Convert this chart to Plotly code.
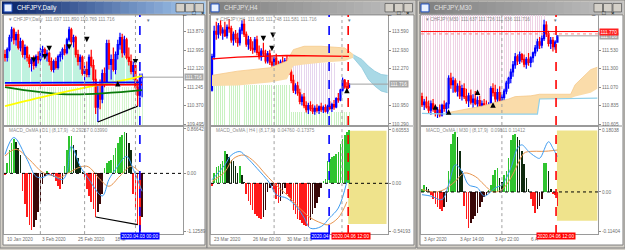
import plotly.graph_objects as go

W, H = 625, 250
FONT = "Liberation Sans"


def fx(p):
    return p / W


def fy(p):
    return 1 - p / H


# ---------------------------------------------------------------- data
# Window 1 : CHFJPY Daily
w1_open = [112.79,112.65,113.02,113.59,113.96,113.49,113.73,113.12,113.40,112.79,113.12,112.65,112.37,112.55,112.27,112.69,112.55,112.93,113.02,112.74,112.84,112.46,112.08,112.46,112.18,112.69,112.79,113.02,112.88,113.49,113.96,113.40,113.59,112.79,112.46,112.65,111.89,112.08,111.85,112.65,112.27,111.61,110.30,110.91,110.67,111.89,111.42,113.31,112.32,112.55,112.08,112.79,113.26,113.59,112.88,113.49,112.65,112.46,111.99,112.27,111.24,110.86,111.697]
w1_high = [113.02,113.12,113.73,114.11,114.06,113.87,113.96,113.59,113.49,113.26,113.21,112.79,112.65,112.74,112.79,112.93,113.12,113.21,113.12,113.02,112.93,112.65,112.55,112.65,112.79,112.93,113.12,113.26,113.59,114.11,114.06,113.73,113.68,113.02,112.79,112.74,112.27,112.46,112.79,113.02,112.55,112.08,111.38,111.61,112.08,112.18,113.49,113.49,112.79,113.12,112.93,113.49,113.82,113.78,113.68,113.59,113.12,112.79,112.46,112.37,111.61,111.89,111.890]
w1_low = [112.46,112.46,112.93,113.40,113.26,113.21,113.02,112.93,112.65,112.55,112.46,112.18,111.99,112.08,112.18,112.37,112.46,112.65,112.55,112.46,112.27,111.99,111.94,112.08,112.08,112.46,112.55,112.74,112.79,113.40,113.26,113.12,112.65,112.27,112.08,111.80,111.52,111.71,111.71,112.18,111.42,109.97,109.59,110.20,110.48,111.24,111.33,112.08,111.61,111.99,111.85,112.55,113.02,112.65,112.74,112.55,112.27,111.85,111.61,111.14,110.34,110.67,110.769]
w1_close = [112.65,113.02,113.59,113.96,113.49,113.73,113.12,113.40,112.79,113.12,112.65,112.37,112.55,112.27,112.69,112.55,112.93,113.02,112.74,112.84,112.46,112.08,112.46,112.18,112.69,112.79,113.02,112.88,113.49,113.96,113.40,113.59,112.79,112.46,112.65,111.89,112.08,111.85,112.65,112.27,111.61,110.30,110.91,110.67,111.89,111.42,113.31,112.32,112.55,112.08,112.79,113.26,113.59,112.88,113.49,112.65,112.46,111.99,112.27,111.24,110.86,111.70,111.716]
w1_hist = [-0.03,0.2,0.45,0.6,0.67,0.62,0.5,0.35,-0.35,-0.6,-0.85,-1.0,-1.1,-1.05,-0.9,-0.75,-0.55,-0.2,-0.05,0.05,-0.02,-0.05,-0.08,-0.15,-0.25,-0.3,-0.2,0.15,0.45,0.72,0.72,0.55,0.45,0.3,0.15,0.03,-0.1,-0.3,-0.45,-0.55,-0.7,-0.85,-0.75,-0.6,-0.4,0.1,0.2,0.25,0.27,0.35,0.5,0.6,0.7,0.75,0.8,0.78,0.6,0.45,-0.4,-0.7,-1.0,-1.12,-0.85]
w1_macd_x = [0,4,10,14,17,20,26,28,30,34,38,44,47,50,55,58,62]
w1_macd_y = [0.37,0.7,0.27,-0.06,-0.08,-0.02,-0.12,0.02,0.53,0.14,-0.12,-0.44,-0.12,0.08,0.33,0.08,-0.35]
w1_sig_x = [0,5,11,17,22,25,29,37,43,47,52,57,61]
w1_sig_y = [0.34,0.47,0.27,0.02,-0.05,-0.08,0.02,0.14,-0.12,-0.25,-0.05,0.14,0.02]
w1_yellow_x = [0,20,40,55,62]
w1_yellow_y = [110.34,110.85,111.30,111.60,111.78]
w1_blue_x = [0,62]
w1_blue_y = [111.45,111.47]
w1_red_x = [0,62]
w1_red_y = [111.33,111.36]
w1_green_x = [0,28,62]
w1_green_y = [111.24,110.90,111.10]
w1_div_px = [42,60]
w1_div_py = [109.59,110.34]
w1_div_mx = [41,60]
w1_div_my = [-0.85,-1.0]
w1_arr_dn_x = [13,18,20,29,37,59]
w1_arr_dn_y = [112.40,112.55,112.94,113.02,113.37,112.32]
w1_arr_up_x = [51]
w1_arr_up_y = [111.53]
w1_stripe_base = 111.40
w1_vlines_dash = [61]
w1_vlines_dot = [16,36,59]
w1_xlabels = ["10 Jan 2020", "3 Feb 2020", "25 Feb 2020", "18 M"]
w1_xlabel_pos = [0, 16, 32, 49]
w1_price_ticks = [113.870, 112.995, 112.120, 111.245, 110.370, 109.495]
w1_macd_ticks = [0.86642, 0.0, -1.12589]
w1_macd_ticktext = ["0.86642", "0.00", "-1.12589"]

# Window 2 : CHFJPY H4
w2_open = [111.50,112.70,113.60,113.50,113.80,113.55,113.65,113.45,113.75,113.70,113.30,113.50,113.35,113.20,113.65,113.85,113.50,113.15,113.30,113.00,112.95,113.30,112.85,112.70,112.90,112.80,112.55,112.80,112.50,112.40,112.65,112.35,112.20,112.50,112.35,112.55,112.40,112.15,111.85,111.50,111.65,111.40,111.10,111.25,110.95,110.80,110.95,110.85,110.75,110.85,110.78,110.90,110.80,110.88,110.75,110.92,110.85,110.98,110.90,111.20,111.15,111.50,111.85,111.62,111.605]
w2_high = [112.80,113.80,113.95,113.90,114.00,113.75,113.95,113.85,114.05,113.80,113.60,113.65,113.55,113.75,114.00,114.05,113.60,113.45,113.40,113.25,113.40,113.45,113.10,113.00,113.20,112.95,112.90,112.95,112.70,112.75,112.80,112.55,112.60,112.70,112.65,112.75,112.60,112.30,112.05,111.75,111.80,111.55,111.35,111.40,111.10,111.05,111.10,111.00,110.95,111.00,110.95,111.05,110.95,111.00,110.98,111.10,111.05,111.15,111.25,111.40,111.55,111.95,111.90,111.78,111.748]
w2_low = [111.45,112.60,113.30,113.35,113.45,113.30,113.40,113.35,113.55,113.20,113.10,113.20,113.05,113.10,113.50,113.40,113.05,112.95,112.90,112.80,112.85,112.75,112.60,112.55,112.70,112.45,112.45,112.40,112.25,112.30,112.30,112.10,112.10,112.25,112.20,112.30,112.05,111.75,111.40,111.35,111.30,111.00,110.95,110.85,110.70,110.65,110.75,110.65,110.62,110.70,110.65,110.72,110.68,110.70,110.66,110.78,110.72,110.80,110.85,111.05,111.10,111.45,111.55,111.50,111.581]
w2_close = [112.70,113.60,113.50,113.80,113.55,113.65,113.45,113.75,113.70,113.30,113.50,113.35,113.20,113.65,113.85,113.50,113.15,113.30,113.00,112.95,113.30,112.85,112.70,112.90,112.80,112.55,112.80,112.50,112.40,112.65,112.35,112.20,112.50,112.35,112.55,112.40,112.15,111.85,111.50,111.65,111.40,111.10,111.25,110.95,110.80,110.95,110.85,110.75,110.85,110.78,110.90,110.80,110.88,110.75,110.92,110.85,110.98,110.90,111.20,111.15,111.50,111.85,111.62,111.605,111.716]
w2_hist = [-0.03,0.12,0.18,0.2,0.22,0.25,0.37,0.33,0.3,0.27,0.25,0.2,0.12,0.2,0.1,0.02,-0.12,-0.2,-0.25,-0.3,-0.35,-0.37,-0.39,-0.4,-0.38,-0.3,-0.1,-0.05,-0.03,-0.1,-0.18,-0.22,-0.2,-0.12,-0.05,-0.12,-0.15,-0.2,-0.3,-0.35,-0.4,-0.42,-0.45,-0.47,-0.48,-0.5,-0.42,-0.35,-0.28,-0.22,-0.15,-0.05,0.03,0.05,0.25,0.28,0.3,0.31,0.33,0.36,0.45,0.5,0.55,0.58,0.6]
w2_macd_x = [0,6,9,13,16,21,27,30,35,40,43,46,51,55,59,63]
w2_macd_y = [0.04,0.21,0.32,0.36,0.3,0.17,0.0,-0.13,-0.17,-0.28,-0.39,-0.51,-0.49,-0.39,-0.28,0.02]
w2_sig_x = [0,6,10,15,20,24,29,35,40,46,51,54,59,63]
w2_sig_y = [0.02,0.13,0.28,0.32,0.24,0.13,0.0,-0.13,-0.26,-0.39,-0.45,-0.47,-0.39,-0.21]
w2_kijun_x = [0,12,35,64]
w2_kijun_y = [112.62,112.68,112.74,112.71]
w2_cloud_x = [0,12,27,35,38,43,51,62,66]
w2_cloud_top = [112.03,112.18,112.30,112.54,112.95,113.07,113.07,113.01,112.77]
w2_cloud_bot = [111.65,111.67,111.77,111.89,112.36,112.42,112.48,112.54,112.66]
w2_fcloud_x = [66,70,73,76,79,82]
w2_fcloud_top = [112.77,112.60,112.36,112.18,112.06,112.03]
w2_fcloud_bot = [112.66,112.30,111.89,111.65,111.47,111.41]
w2_arr_dn_x = [24,28.5,28]
w2_arr_dn_y = [113.25,113.37,112.89]
w2_arr_up_x = [63]
w2_arr_up_y = [111.59]
w2_vlines_dash_blue = [54.7]
w2_vlines_dash_red = [63.6]
w2_vlines_dot = [29,60.7]
w2_xlabels = ["23 Mar 2020", "26 Mar 00:00", "30 Mar 16:0"]
w2_xlabel_pos = [0, 18, 34]
w2_price_ticks = [113.590, 112.930, 112.270, 110.950, 110.290]
w2_macd_ticks = [0.60553, 0.0, -0.54193]
w2_macd_ticktext = ["0.60553", "0.00", "-0.54193"]
w2_box_x = [63.6, 81.5]
w2_box_y = [-0.46, 0.596]

# Window 3 : CHFJPY M30
w3_open = [110.95,110.85,110.88,110.82,110.78,110.86,110.80,110.74,110.78,110.72,110.84,110.80,110.86,111.18,111.10,111.15,111.02,111.08,110.96,111.05,110.95,110.90,110.96,110.88,110.92,110.86,110.90,110.80,110.86,110.82,110.80,110.84,111.05,111.00,110.92,111.00,110.90,110.94,111.02,111.12,111.18,111.26,111.35,111.45,111.40,111.48,111.42,111.36,111.42,111.38,111.44,111.50,111.56,111.64,111.60,111.68,111.85,111.74,111.62,111.66,111.58,111.637]
w3_high = [111.00,110.92,110.95,110.90,110.90,110.92,110.85,110.82,110.85,110.86,110.90,110.88,111.22,111.25,111.20,111.18,111.12,111.15,111.10,111.12,111.05,111.00,111.04,110.98,111.02,110.95,110.96,110.90,110.92,110.90,110.88,111.08,111.12,111.10,111.05,111.08,110.98,111.05,111.15,111.20,111.30,111.40,111.50,111.48,111.52,111.50,111.48,111.45,111.50,111.46,111.52,111.60,111.68,111.70,111.72,111.92,111.90,111.78,111.70,111.70,111.66,111.726]
w3_low = [110.82,110.78,110.80,110.74,110.72,110.76,110.70,110.68,110.69,110.70,110.76,110.74,110.80,111.05,111.00,111.00,110.95,110.92,110.90,110.92,110.86,110.82,110.85,110.80,110.84,110.78,110.76,110.74,110.78,110.75,110.76,110.80,110.95,110.88,110.85,110.86,110.80,110.88,110.98,111.05,111.12,111.20,111.30,111.35,111.36,111.38,111.32,111.30,111.34,111.32,111.38,111.46,111.52,111.55,111.56,111.65,111.70,111.58,111.55,111.52,111.54,111.636]
w3_close = [110.85,110.88,110.82,110.78,110.86,110.80,110.74,110.78,110.72,110.84,110.80,110.86,111.18,111.10,111.15,111.02,111.08,110.96,111.05,110.95,110.90,110.96,110.88,110.92,110.86,110.90,110.80,110.86,110.82,110.80,110.84,111.05,111.00,110.92,111.00,110.90,110.94,111.02,111.12,111.18,111.26,111.35,111.45,111.40,111.48,111.42,111.36,111.42,111.38,111.44,111.50,111.56,111.64,111.60,111.68,111.85,111.74,111.62,111.66,111.58,111.637,111.716]
w3_hist = [0.01,0.02,0.015,0.01,-0.01,-0.02,-0.035,-0.045,-0.05,-0.056,-0.045,-0.03,0.06,0.14,0.17,0.175,0.16,0.12,0.06,-0.04,-0.08,-0.104,-0.09,-0.08,-0.07,-0.06,-0.045,-0.03,-0.015,-0.01,0.005,0.02,0.05,0.065,0.07,0.04,0.03,0.05,0.06,0.1,0.15,0.165,0.17,0.16,0.151,0.12,0.08,0.04,0.01,-0.02,-0.04,-0.061,-0.05,-0.04,-0.02,0.084,0.084,0.06,0.01,-0.005,-0.01,-0.041]
w3_macd_x = [0,4,9,12,15,18,21,25,28,33,36,40,43,45,48,51,53,57,59,61]
w3_macd_y = [-0.008,-0.012,-0.022,0.021,0.079,0.06,0.021,0.012,-0.012,0.012,0.021,0.069,0.127,0.137,0.118,0.103,0.098,0.146,0.127,0.103]
w3_sig_x = [0,6,10,15,19,24,28,32,36,40,43,46,49,54,57,61]
w3_sig_y = [0.007,0.0,0.007,0.031,0.055,0.045,0.021,0.0,0.007,0.04,0.079,0.113,0.118,0.118,0.119,0.122]
w3_cloud_x = [12,27,39,42,49,52,53,60,67,69,76,79]
w3_cloud_top = [110.75,110.83,110.92,110.95,110.96,110.98,110.98,110.98,110.98,111.10,111.29,111.32]
w3_cloud_bot = [110.73,110.73,110.73,110.73,110.73,110.73,110.92,110.92,110.93,110.95,111.00,111.05]
w3_spanb_x = [0,12,52,53,79]
w3_spanb_y = [110.74,110.73,110.73,110.92,110.93]
w3_redline = 111.77
w3_arr_up_x = [6,12,25,32]
w3_arr_up_y = [110.855,110.79,111.04,110.88]
w3_vlines_dash_red = [60.4]
w3_vlines_dot = [36]
w3_xlabels = ["3 Apr 2020", "3 Apr 14:00", "3 Apr 22:00", "6 A"]
w3_xlabel_pos = [0, 16, 32, 48]
w3_price_ticks = [111.530, 111.300, 111.070, 110.835, 110.605]
w3_macd_ticks = [0.18038, 0.0, -0.11404]
w3_macd_ticktext = ["0.18038", "0.00", "-0.11404"]
w3_box_x = [60.8, 79.0]
w3_box_y = [-0.084, 0.179]

last_price = 111.716

# ---------------------------------------------------------------- figure
fig = go.Figure()
shapes = []
annos = []

BULL = "#0000ff"
BEAR = "#ff0000"
TXT = "#6e6e6e"


def axn(n):
    return "" if n == 1 else str(n)


def hist_colors(vals):
    cols = []
    prev = 0.0
    for v in vals:
        if v >= 0:
            cols.append("#2fc42f" if v >= prev else "#0f2a0f")
        else:
            cols.append("#ff1a1a" if v <= prev else "#3a0808")
        prev = v
    return cols


windows = [
    dict(off=0, wr=207, x0=4, x1=183, title="CHFJPY,Daily", active=True,
         xr=[-0.45, 80.5], pr=[109.448, 114.67], mr=[-1.184, 0.905],
         o=w1_open, h=w1_high, l=w1_low, c=w1_close, hist=w1_hist,
         mx=w1_macd_x, my=w1_macd_y, sx=w1_sig_x, sy=w1_sig_y,
         pticks=w1_price_ticks, mticks=w1_macd_ticks, mtt=w1_macd_ticktext,
         xl=w1_xlabels, xlp=w1_xlabel_pos,
         header="\u25BE CHFJPY,Daily  111.697 111.890 110.769 111.716",
         mheader="MACD_OsMA | D1 | (8,17,9)  -0.29257 0.03990"),
    dict(off=207, wr=416, x0=211, x1=388, title="CHFJPY,H4", active=False,
         xr=[-0.47, 82.2], pr=[110.254, 114.193], mr=[-0.576, 0.639],
         o=w2_open, h=w2_high, l=w2_low, c=w2_close, hist=w2_hist,
         mx=w2_macd_x, my=w2_macd_y, sx=w2_sig_x, sy=w2_sig_y,
         pticks=w2_price_ticks, mticks=w2_macd_ticks, mtt=w2_macd_ticktext,
         xl=w2_xlabels, xlp=w2_xlabel_pos,
         header="\u25BE CHFJPY,H4  111.605 111.748 111.581 111.716",
         mheader="MACD_OsMA | H4 | (8,17,9)  0.04760 -0.17375"),
    dict(off=417, wr=625, x0=421, x1=598, title="CHFJPY,M30", active=False,
         xr=[-0.45, 79.3], pr=[110.5925, 111.98], mr=[-0.1227, 0.18904],
         o=w3_open, h=w3_high, l=w3_low, c=w3_close, hist=w3_hist,
         mx=w3_macd_x, my=w3_macd_y, sx=w3_sig_x, sy=w3_sig_y,
         pticks=w3_price_ticks, mticks=w3_macd_ticks, mtt=w3_macd_ticktext,
         xl=w3_xlabels, xlp=w3_xlabel_pos,
         header="\u25BE CHFJPY,M30  111.637 111.726 111.636 111.716",
         mheader="MACD_OsMA | M30 | (8,17,9)  0.09811 0.11412"),
]

P_TOP, P_BOT = 15, 126
M_TOP, M_BOT = 128, 236

layout_axes = {}


def hexmix(a, b, t):
    a = [int(a[i:i + 2], 16) for i in (1, 3, 5)]
    b = [int(b[i:i + 2], 16) for i in (1, 3, 5)]
    return "#%02x%02x%02x" % tuple(int(a[i] + (b[i] - a[i]) * t) for i in range(3))


for k, w in enumerate(windows):
    pa, ma = 2 * k + 1, 2 * k + 2
    xp, yp = "x" + axn(pa), "y" + axn(pa)
    xm, ym = "x" + axn(ma), "y" + axn(ma)
    off, wr = w["off"], w["wr"]

    # ---- window chrome
    shapes.append(dict(type="rect", xref="paper", yref="paper", x0=fx(off), x1=fx(wr),
                       y0=fy(250), y1=fy(0), fillcolor="#d4d0c8",
                       line=dict(color="#808080", width=1), layer="below"))
    shapes.append(dict(type="rect", xref="paper", yref="paper", x0=fx(off + 3), x1=fx(wr - 2),
                       y0=fy(247), y1=fy(15), fillcolor="#ffffff",
                       line=dict(color="#808080", width=1), layer="below"))
    c0, c1 = ("#0a246a", "#a6caf0") if w["active"] else ("#808080", "#c0c0c0")
    n = 24
    for s in range(n):
        xa = off + 2 + (wr - off - 4) * s / n
        xb = off + 2 + (wr - off - 4) * (s + 1) / n
        shapes.append(dict(type="rect", xref="paper", yref="paper", x0=fx(xa), x1=fx(xb + 0.5),
                           y0=fy(14), y1=fy(1.5), fillcolor=hexmix(c0, c1, s / (n - 1)),
                           line=dict(width=0), layer="below"))
    # icon
    shapes.append(dict(type="rect", xref="paper", yref="paper", x0=fx(off + 4), x1=fx(off + 12),
                       y0=fy(12), y1=fy(4), fillcolor="#e8f0ff",
                       line=dict(color="#2050c0", width=1), layer="above"))
    annos.append(dict(text=w["title"], x=fx(off + 15), y=fy(8), xref="paper", yref="paper",
                      xanchor="left", yanchor="middle", showarrow=False,
                      font=dict(family=FONT, size=6.3, color="#ffffff" if w["active"] else "#e4e4e4")))
    for bi, glyph in enumerate(["_", "\u25A1", "\u00D7"]):
        bx0 = wr - 31 + bi * 9.5
        shapes.append(dict(type="rect", xref="paper", yref="paper", x0=fx(bx0), x1=fx(bx0 + 8.5),
                           y0=fy(12), y1=fy(3.5), fillcolor="#d4d0c8",
                           line=dict(color="#404040", width=0.6), layer="above"))
        annos.append(dict(text=glyph, x=fx(bx0 + 4.25), y=fy(7.6), xref="paper", yref="paper",
                          showarrow=False, font=dict(family=FONT, size=6, color="#000000")))
    # pane separator
    shapes.append(dict(type="rect", xref="paper", yref="paper", x0=fx(off + 3), x1=fx(wr - 2),
                       y0=fy(128), y1=fy(126), fillcolor="#c8c8c8",
                       line=dict(width=0), layer="below"))

    # ---- axes
    common_x = dict(range=w["xr"], showgrid=False, zeroline=False, showticklabels=False,
                    ticks="", showline=True, mirror=True, linecolor="#9a9a9a", linewidth=1,
                    rangeslider=dict(visible=False), fixedrange=True)
    layout_axes["xaxis" + axn(pa)] = dict(common_x, domain=[fx(w["x0"]), fx(w["x1"])], anchor=yp)
    layout_axes["xaxis" + axn(ma)] = dict(common_x, domain=[fx(w["x0"]), fx(w["x1"])], anchor=ym)
    common_y = dict(showgrid=False, zeroline=False, side="right", ticks="outside", ticklen=2,
                    tickcolor="#8a8a8a", showline=True, mirror=True, linecolor="#9a9a9a",
                    linewidth=1, tickfont=dict(family=FONT, size=4.7, color=TXT), fixedrange=True)
    layout_axes["yaxis" + axn(pa)] = dict(common_y, domain=[fy(P_BOT), fy(P_TOP)], anchor=xp,
                                          range=w["pr"], tickvals=w["pticks"],
                                          ticktext=["%.3f" % v for v in w["pticks"]])
    layout_axes["yaxis" + axn(ma)] = dict(common_y, domain=[fy(M_BOT), fy(M_TOP)], anchor=xm,
                                          range=w["mr"], tickvals=w["mticks"], ticktext=w["mtt"])

    idx = list(range(len(w["c"])))

    # ---- background stripes and clouds per window
    if k == 0:
        fig.add_trace(go.Bar(x=idx, base=[w["pr"][0]] * len(idx),
                             y=[w1_stripe_base - 0.15 - w["pr"][0]] * len(idx),
                             width=0.45, marker=dict(color="#d6f7d0", line=dict(width=0)),
                             xaxis=xp, yaxis=yp, hoverinfo="skip"))
        fig.add_trace(go.Bar(x=idx, base=[w1_stripe_base] * len(idx),
                             y=[max(lo - w1_stripe_base, 0) for lo in w1_low],
                             width=0.9, marker=dict(color="#bff2df", line=dict(width=0)),
                             xaxis=xp, yaxis=yp, hoverinfo="skip"))
    if k == 1:
        fig.add_trace(go.Bar(x=idx[:37], base=[w["pr"][0]] * 37,
                             y=[111.68 - w["pr"][0]] * 37,
                             width=0.45, marker=dict(color="#c9f2c2", line=dict(width=0)),
                             xaxis=xp, yaxis=yp, hoverinfo="skip"))
        fig.add_trace(go.Bar(x=idx[37:], base=[w["pr"][0]] * (len(idx) - 37),
                             y=[0.45] * (len(idx) - 37),
                             width=0.45, marker=dict(color="#c9f2c2", line=dict(width=0)),
                             xaxis=xp, yaxis=yp, hoverinfo="skip"))
        fig.add_trace(go.Bar(x=idx[37:58], base=w2_high[37:58],
                             y=[112.48 - hv for hv in w2_high[37:58]],
                             width=0.45, marker=dict(color="#e6d6ee", line=dict(width=0)),
                             xaxis=xp, yaxis=yp, hoverinfo="skip"))
        fig.add_trace(go.Scatter(x=w2_cloud_x, y=w2_cloud_bot, mode="lines",
                                 line=dict(width=0, color="#f9d7a0"), xaxis=xp, yaxis=yp,
                                 hoverinfo="skip"))
        fig.add_trace(go.Scatter(x=w2_cloud_x, y=w2_cloud_top, mode="lines", fill="tonexty",
                                 fillcolor="#fadcaa", line=dict(width=0.8, color="#f6c98a"),
                                 xaxis=xp, yaxis=yp, hoverinfo="skip"))
        fig.add_trace(go.Scatter(x=w2_fcloud_x, y=w2_fcloud_bot, mode="lines",
                                 line=dict(width=0.8, color="#8cc8dc"), xaxis=xp, yaxis=yp,
                                 hoverinfo="skip"))
        fig.add_trace(go.Scatter(x=w2_fcloud_x, y=w2_fcloud_top, mode="lines", fill="tonexty",
                                 fillcolor="#a9d9e6", line=dict(width=0.8, color="#8cc8dc"),
                                 xaxis=xp, yaxis=yp, hoverinfo="skip"))
    if k == 2:
        fig.add_trace(go.Bar(x=idx[:56], base=w3_high[:56],
                             y=[w["pr"][1] - hv for hv in w3_high[:56]],
                             width=0.45, marker=dict(color="#efd3e6", line=dict(width=0)),
                             xaxis=xp, yaxis=yp, hoverinfo="skip"))
        fig.add_trace(go.Scatter(x=w3_cloud_x, y=w3_cloud_bot, mode="lines",
                                 line=dict(width=0, color="#f9d7a0"), xaxis=xp, yaxis=yp,
                                 hoverinfo="skip"))
        fig.add_trace(go.Scatter(x=w3_cloud_x, y=w3_cloud_top, mode="lines", fill="tonexty",
                                 fillcolor="#fadcaa", line=dict(width=0.8, color="#f6c98a"),
                                 xaxis=xp, yaxis=yp, hoverinfo="skip"))
        fig.add_trace(go.Scatter(x=w3_spanb_x, y=w3_spanb_y, mode="lines",
                                 line=dict(width=1.2, color="#8fd0ea"), xaxis=xp, yaxis=yp,
                                 hoverinfo="skip"))

    # ---- overlays (lines)
    if k == 0:
        for lx, ly, col in [(w1_green_x, w1_green_y, "#0a7a0a"),
                            (w1_yellow_x, w1_yellow_y, "#ffff00"),
                            (w1_red_x, w1_red_y, "#ff0000"),
                            (w1_blue_x, w1_blue_y, "#0000ff")]:
            fig.add_trace(go.Scatter(x=lx, y=ly, mode="lines", line=dict(color=col, width=1.8,
                                     shape="spline"), xaxis=xp, yaxis=yp, hoverinfo="skip"))
        fig.add_trace(go.Scatter(x=w1_div_px, y=w1_div_py, mode="lines",
                                 line=dict(color="#000000", width=1.2), xaxis=xp, yaxis=yp,
                                 hoverinfo="skip"))
        fig.add_trace(go.Scatter(x=w1_div_mx, y=w1_div_my, mode="lines",
                                 line=dict(color="#000000", width=1.2), xaxis=xm, yaxis=ym,
                                 hoverinfo="skip"))
    if k == 1:
        fig.add_trace(go.Scatter(x=w2_kijun_x, y=w2_kijun_y, mode="lines",
                                 line=dict(color="#ff0000", width=1.3), xaxis=xp, yaxis=yp,
                                 hoverinfo="skip"))
    if k == 2:
        shapes.append(dict(type="line", xref=xp + " domain", yref=yp, x0=0, x1=1,
                           y0=w3_redline, y1=w3_redline, line=dict(color="#ff0000", width=1)))
        shapes.append(dict(type="line", xref=xp + " domain", yref=yp, x0=0, x1=1,
                           y0=w3_redline - 0.03, y1=w3_redline - 0.03,
                           line=dict(color="#ff6060", width=0.8, dash="dot")))

    # current price line
    shapes.append(dict(type="line", xref=xp, yref=yp, x0=len(idx) - 1, x1=w["xr"][1],
                       y0=last_price, y1=last_price, line=dict(color="#a0a0a0", width=1)))

    # ---- candles
    fig.add_trace(go.Candlestick(x=idx, open=w["o"], high=w["h"], low=w["l"], close=w["c"],
                                 increasing=dict(line=dict(color=BULL, width=1.2), fillcolor=BULL),
                                 decreasing=dict(line=dict(color=BEAR, width=1.2), fillcolor=BEAR),
                                 whiskerwidth=0, xaxis=xp, yaxis=yp, hoverinfo="skip"))

    # ---- arrows
    arr = {0: [(w1_arr_dn_x, w1_arr_dn_y, "arrow-down"), (w1_arr_up_x, w1_arr_up_y, "arrow-up")],
           1: [(w2_arr_dn_x, w2_arr_dn_y, "arrow-down"), (w2_arr_up_x, w2_arr_up_y, "arrow-up")],
           2: [(w3_arr_up_x, w3_arr_up_y, "arrow-up")]}[k]
    for axx, ayy, sym in arr:
        fig.add_trace(go.Scatter(x=axx, y=ayy, mode="markers",
                                 marker=dict(symbol=sym, size=5.5, color="#000000",
                                             line=dict(width=0)),
                                 xaxis=xp, yaxis=yp, hoverinfo="skip"))

    # ---- MACD
    if k == 1:
        shapes.append(dict(type="rect", xref=xm, yref=ym, x0=w2_box_x[0], x1=w2_box_x[1],
                           y0=w2_box_y[0], y1=w2_box_y[1], fillcolor="#efe38c",
                           line=dict(width=0), layer="below"))
    if k == 2:
        shapes.append(dict(type="rect", xref=xm, yref=ym, x0=w3_box_x[0], x1=w3_box_x[1],
                           y0=w3_box_y[0], y1=w3_box_y[1], fillcolor="#efe38c",
                           line=dict(width=0), layer="below"))
    fig.add_trace(go.Bar(x=idx, y=w["hist"], width=0.72,
                         marker=dict(color=hist_colors(w["hist"]), line=dict(width=0)),
                         xaxis=xm, yaxis=ym, hoverinfo="skip"))
    fig.add_trace(go.Scatter(x=w["sx"], y=w["sy"], mode="lines",
                             line=dict(color="#e8954f", width=1, shape="spline"),
                             xaxis=xm, yaxis=ym, hoverinfo="skip"))
    fig.add_trace(go.Scatter(x=w["mx"], y=w["my"], mode="lines",
                             line=dict(color="#3d9bf0", width=1, shape="spline"),
                             xaxis=xm, yaxis=ym, hoverinfo="skip"))
    shapes.append(dict(type="line", xref=xm + " domain", yref=ym, x0=0, x1=1, y0=0, y1=0,
                       line=dict(color="#000000", width=1, dash="dot")))

    # ---- vertical lines
    vdefs = []
    if k == 0:
        vdefs += [(v, "#a0a0a0", "dot", 1) for v in w1_vlines_dot]
        vdefs += [(v, "#0000ff", "dash", 1.6) for v in w1_vlines_dash]
    if k == 1:
        vdefs += [(v, "#a0a0a0", "dot", 1) for v in w2_vlines_dot]
        vdefs += [(v, "#0000ff", "dash", 1.6) for v in w2_vlines_dash_blue]
        vdefs += [(v, "#ff0000", "dash", 1.6) for v in w2_vlines_dash_red]
    if k == 2:
        vdefs += [(v, "#a0a0a0", "dot", 1) for v in w3_vlines_dot]
        vdefs += [(v, "#ff0000", "dash", 1.6) for v in w3_vlines_dash_red]
    for v, col, dash, lw in vdefs:
        for xa_, ya_ in ((xp, yp), (xm, ym)):
            shapes.append(dict(type="line", xref=xa_, yref=ya_ + " domain", x0=v, x1=v,
                               y0=0, y1=1, line=dict(color=col, width=lw, dash=dash)))

    # ---- texts
    annos.append(dict(text=w["header"], x=fx(w["x0"] + 3), y=fy(19.5), xref="paper",
                      yref="paper", xanchor="left", yanchor="middle", showarrow=False,
                      font=dict(family=FONT, size=4.7, color="#8c8c8c")))
    annos.append(dict(text=w["mheader"], x=fx(w["x0"] + 3), y=fy(132), xref="paper",
                      yref="paper", xanchor="left", yanchor="middle", showarrow=False,
                      font=dict(family=FONT, size=4.7, color="#8c8c8c")))
    annos.append(dict(text="\u25BC", x=fx(w["x0"] + (w["x1"] - w["x0"]) * 0.782), y=fy(16.5),
                      xref="paper", yref="paper", showarrow=False,
                      font=dict(family=FONT, size=4.5, color="#6a7a8a")))
    for lab, pos in zip(w["xl"], w["xlp"]):
        annos.append(dict(text=lab, x=pos, y=fy(241.5), xref=xm, yref="paper",
                          xanchor="left", yanchor="middle", showarrow=False,
                          font=dict(family=FONT, size=4.7, color=TXT)))
    # current price box
    annos.append(dict(text="111.716", x=fx(w["x1"] + 1), y=last_price, xref="paper", yref=yp,
                      xanchor="left", yanchor="middle", showarrow=False, bgcolor="#a8a8a8",
                      borderpad=0.5, font=dict(family=FONT, size=4.7, color="#ffffff")))

# time boxes
annos.append(dict(text="2020.04.03 00:00", x=61, y=fy(241.5), xref="x2", yref="paper",
                  showarrow=False, bgcolor="#0000ff", borderpad=0.5,
                  font=dict(family=FONT, size=4.7, color="#ffffff")))
annos.append(dict(text="2020.04", x=(330 - 212) / 2.14, y=fy(241.5), xref="x4",
                  xanchor="right", yref="paper", showarrow=False, bgcolor="#0000ff",
                  borderpad=0.5, font=dict(family=FONT, size=4.7, color="#ffffff")))
annos.append(dict(text="2020.04.06 12:00", x=(331 - 212) / 2.14, y=fy(241.5), xref="x4",
                  xanchor="left", yref="paper", showarrow=False, bgcolor="#ff0000",
                  borderpad=0.5, font=dict(family=FONT, size=4.7, color="#ffffff")))
annos.append(dict(text="2020.04.06 12:00", x=w3_vlines_dash_red[0], y=fy(241.5), xref="x6",
                  yref="paper", showarrow=False, bgcolor="#ff0000", borderpad=0.5,
                  font=dict(family=FONT, size=4.7, color="#ffffff")))
annos.append(dict(text="111.770", x=fx(599), y=w3_redline, xref="paper", yref="y5",
                  xanchor="left", yanchor="middle", showarrow=False, bgcolor="#ff2020",
                  borderpad=0.5, font=dict(family=FONT, size=4.7, color="#ffffff")))

fig.update_layout(
    width=W, height=H, margin=dict(l=0, r=0, t=0, b=0),
    paper_bgcolor="#d4d0c8", plot_bgcolor="#ffffff",
    showlegend=False, barmode="overlay", bargap=0,
    shapes=shapes, annotations=annos, hovermode=False,
    **layout_axes,
)

fig.write_html("out.html", config=dict(displayModeBar=False, staticPlot=True))
